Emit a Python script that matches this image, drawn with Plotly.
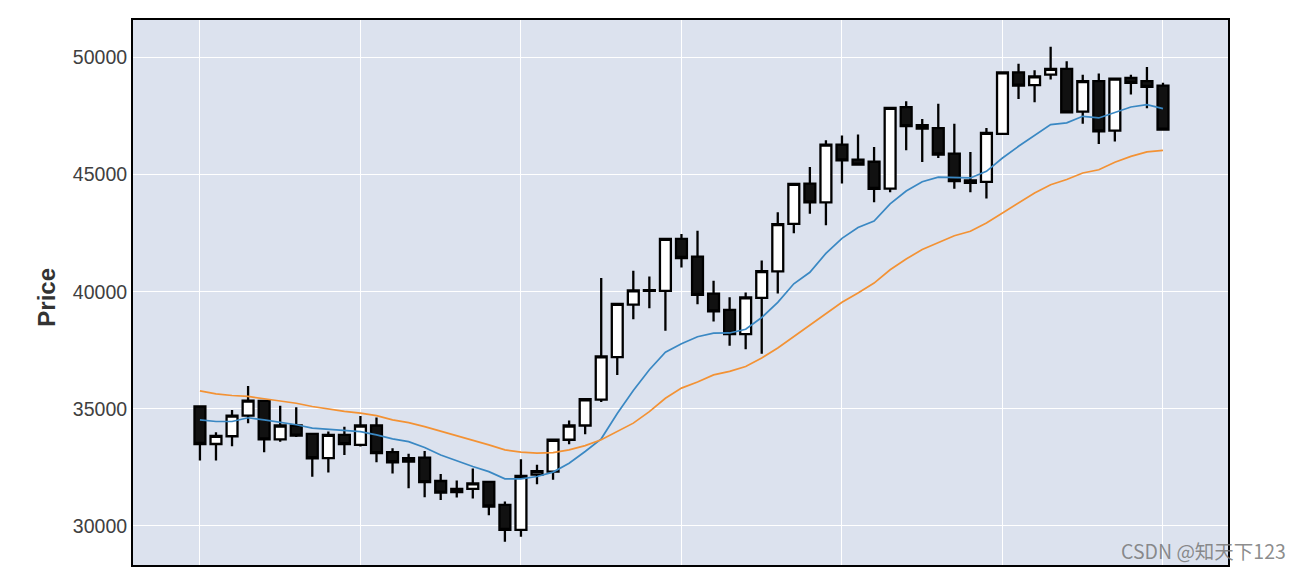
import plotly.graph_objects as go

# ---- data ----
idx = list(range(61))
opens = [35100, 33500, 33830, 34710, 35340, 33700, 34290, 33930, 32900, 33890,
         33460, 34290, 33150, 32900, 32920, 31920, 31450, 31580, 31880, 30900,
         29830, 32190, 32320, 33680, 34290, 35390, 37210, 39450, 40040, 40040,
         42260, 41500, 39920, 39230, 38190, 39740, 40870, 42900, 44620, 43820,
         46280, 45640, 45550, 44400, 47880, 47110, 46990, 45900, 44750, 44690,
         46740, 49370, 48820, 49270, 49520, 47690, 48990, 46880, 49130, 48990,
         48800]
highs = [35150, 34000, 34950, 35980, 35380, 35130, 35070, 33950, 34030, 34240,
         34690, 34630, 33320, 33080, 33200, 32220, 31940, 32450, 31900, 31040,
         32850, 32610, 33720, 34500, 35450, 40590, 39520, 40900, 40650, 42290,
         42470, 42600, 40470, 39760, 39970, 41330, 43390, 44650, 45330, 46470,
         46670, 46710, 46180, 47880, 48130, 47380, 48030, 47170, 45970, 46990,
         49400, 49740, 49460, 50460, 49840, 49270, 49320, 49120, 49270, 49600,
         48920]
lows = [32800, 32800, 33400, 34390, 33150, 33600, 33800, 32100, 32280, 33030,
        33390, 32720, 32240, 31610, 31230, 31110, 31210, 31170, 30460, 29330,
        29540, 31780, 31970, 33490, 33920, 35290, 36450, 38830, 39300, 38330,
        41040, 39470, 38730, 37690, 37550, 37350, 39930, 42500, 43330, 42840,
        44620, 45400, 43820, 44250, 46040, 45540, 45710, 44400, 44250, 43980,
        46700, 48230, 48090, 49060, 47640, 47170, 46310, 46410, 48420, 47840,
        46900]
closes = [33500, 33850, 34710, 35350, 33700, 34290, 33860, 32890, 33890, 33490,
          34290, 33110, 32720, 32750, 31870, 31420, 31580, 31820, 30830, 29830,
          32140, 32340, 33680, 34290, 35410, 37240, 39480, 40060, 40070, 42260,
          41440, 39870, 39160, 38190, 39760, 40880, 42890, 44610, 43820, 46280,
          45610, 45430, 44390, 47850, 47070, 46970, 45860, 44720, 44650, 46780,
          49370, 48800, 49200, 49520, 47660, 48990, 46850, 49100, 48920, 48750,
          46920]
mav_short = [34530, 34460, 34460, 34620, 34530, 34430, 34320, 34180, 34130, 34060,
             34030, 33890, 33720, 33600, 33350, 33030, 32780, 32540, 32320, 32010,
             32010, 32110, 32300, 32680, 33180, 33720, 34800, 35780, 36670, 37420,
             37780, 38080, 38230, 38240, 38400, 38900, 39550, 40340, 40830, 41640,
             42280, 42740, 43020, 43750, 44300, 44700, 44890, 44890, 44860, 45140,
             45710, 46210, 46670, 47140, 47210, 47490, 47420, 47660, 47890, 47990,
             47820]
mav_long = [35770, 35640, 35570, 35530, 35430, 35340, 35240, 35100, 34990, 34890,
            34820, 34710, 34530, 34415, 34240, 34045, 33850, 33675, 33460, 33250,
            33150, 33110, 33130, 33250, 33430, 33680, 34030, 34390, 34880, 35450,
            35885, 36150, 36450, 36600, 36810, 37170, 37600, 38090, 38590, 39080,
            39550, 39950, 40370, 40940, 41400, 41800, 42110, 42390, 42580, 42940,
            43360, 43790, 44220, 44570, 44790, 45070, 45210, 45530, 45780, 45970,
            46040]
y_ticks = [30000, 35000, 40000, 45000, 50000]
y_title = "Price"
watermark = "CSDN @知天下123"

FONT = "Liberation Sans, Arial, sans-serif"

fig = go.Figure()
fig.add_trace(go.Candlestick(
    x=idx, open=opens, high=highs, low=lows, close=closes,
    increasing=dict(line=dict(color="#000000", width=2.3), fillcolor="#ffffff"),
    decreasing=dict(line=dict(color="#000000", width=2.3), fillcolor="#111111"),
    whiskerwidth=0, showlegend=False, hoverinfo="skip"))
fig.add_trace(go.Scatter(x=idx, y=mav_short, mode="lines",
                         line=dict(color="#3a88c3", width=1.7), showlegend=False))
fig.add_trace(go.Scatter(x=idx, y=mav_long, mode="lines",
                         line=dict(color="#f39234", width=1.7), showlegend=False))

fig.update_layout(
    width=1293, height=560,
    margin=dict(l=125, r=73, t=12, b=3),
    paper_bgcolor="#ffffff", plot_bgcolor="#dce2ee",
    boxgap=0.32, boxgroupgap=0,
    font=dict(family=FONT, color="#333333", size=17),
    xaxis=dict(range=[-4.17, 64.05], tick0=0, dtick=10, showticklabels=False,
               showgrid=True, gridcolor="#ffffff", gridwidth=1.3, zeroline=False,
               showline=True, linecolor="#000000", linewidth=2, mirror=True,
               rangeslider=dict(visible=False), ticks=""),
    yaxis=dict(range=[28333, 51603], tickvals=y_ticks,
               ticktext=[str(v) for v in y_ticks],
               showgrid=True, gridcolor="#ffffff", gridwidth=1.3, zeroline=False,
               showline=True, linecolor="#000000", linewidth=2, mirror=True,
               ticks="", tickfont=dict(size=19.5, color="#404040", family=FONT)),
    annotations=[
        dict(text="<b>" + y_title + "</b>", textangle=-90, xref="paper", yref="paper",
             x=-0.0787, y=0.492, xanchor="center", yanchor="middle", showarrow=False,
             font=dict(size=24, color="#333333", family=FONT)),
        dict(text=watermark, xref="paper", yref="paper", x=0.978, y=0.0275,
             xanchor="center", yanchor="middle", showarrow=False,
             font=dict(size=19.5, color="rgba(120,120,120,0.85)",
                       family="Noto Sans CJK SC, Noto Sans, sans-serif")),
    ],
)

fig.write_html("out.html")
